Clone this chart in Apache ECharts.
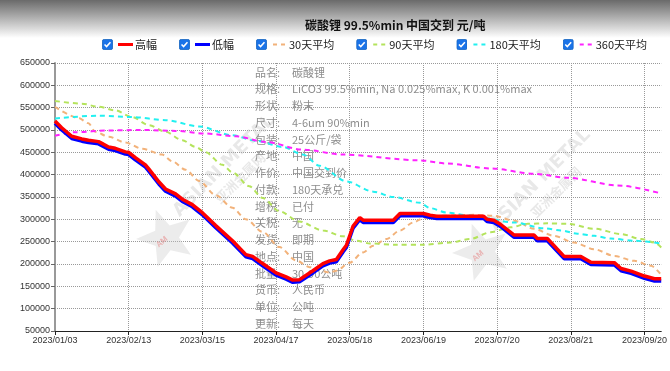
<!DOCTYPE html>
<html><head><meta charset="utf-8">
<script src="https://cdn.jsdelivr.net/npm/echarts@6/dist/echarts.min.js"></script>
<style>html,body{margin:0;padding:0;background:#fff}#c{width:670px;height:371px}</style>
</head><body><div id="c"></div>
<script>
const categories = ['2023/01/03','2023/01/04','2023/01/05','2023/01/06','2023/01/09','2023/01/10','2023/01/11','2023/01/12','2023/01/13','2023/01/16','2023/01/17','2023/01/18','2023/01/30','2023/01/31','2023/02/01','2023/02/02','2023/02/03','2023/02/06','2023/02/07','2023/02/08','2023/02/09','2023/02/10',
'2023/02/13','2023/02/14','2023/02/15','2023/02/16','2023/02/17','2023/02/20','2023/02/21','2023/02/22','2023/02/23','2023/02/24','2023/02/27','2023/02/28','2023/03/01','2023/03/02','2023/03/03','2023/03/06','2023/03/07','2023/03/08','2023/03/09','2023/03/10','2023/03/13','2023/03/14',
'2023/03/15','2023/03/16','2023/03/17','2023/03/20','2023/03/21','2023/03/22','2023/03/23','2023/03/24','2023/03/27','2023/03/28','2023/03/29','2023/03/30','2023/03/31','2023/04/03','2023/04/04','2023/04/06','2023/04/07','2023/04/10','2023/04/11','2023/04/12','2023/04/13','2023/04/14',
'2023/04/17','2023/04/18','2023/04/19','2023/04/20','2023/04/21','2023/04/23','2023/04/24','2023/04/25','2023/04/26','2023/04/27','2023/04/28','2023/05/04','2023/05/05','2023/05/06','2023/05/08','2023/05/09','2023/05/10','2023/05/11','2023/05/12','2023/05/15','2023/05/16','2023/05/17',
'2023/05/18','2023/05/19','2023/05/22','2023/05/23','2023/05/24','2023/05/25','2023/05/26','2023/05/29','2023/05/30','2023/05/31','2023/06/01','2023/06/02','2023/06/05','2023/06/06','2023/06/07','2023/06/08','2023/06/09','2023/06/12','2023/06/13','2023/06/14','2023/06/15','2023/06/16',
'2023/06/19','2023/06/20','2023/06/21','2023/06/25','2023/06/26','2023/06/27','2023/06/28','2023/06/29','2023/06/30','2023/07/03','2023/07/04','2023/07/05','2023/07/06','2023/07/07','2023/07/10','2023/07/11','2023/07/12','2023/07/13','2023/07/14','2023/07/17','2023/07/18','2023/07/19',
'2023/07/20','2023/07/21','2023/07/24','2023/07/25','2023/07/26','2023/07/27','2023/07/28','2023/07/31','2023/08/01','2023/08/02','2023/08/03','2023/08/04','2023/08/07','2023/08/08','2023/08/09','2023/08/10','2023/08/11','2023/08/14','2023/08/15','2023/08/16','2023/08/17','2023/08/18',
'2023/08/21','2023/08/22','2023/08/23','2023/08/24','2023/08/25','2023/08/28','2023/08/29','2023/08/30','2023/08/31','2023/09/01','2023/09/04','2023/09/05','2023/09/06','2023/09/07','2023/09/08','2023/09/11','2023/09/12','2023/09/13','2023/09/14','2023/09/15','2023/09/18','2023/09/19',
'2023/09/20','2023/09/21','2023/09/22','2023/09/25','2023/09/26','2023/09/27'];

const seriesNames = ['高幅','低幅','30天平均','90天平均','180天平均','360天平均'];

const highData = [['2023/01/03',520000],['2023/01/05',505000],['2023/01/10',486000],['2023/01/13',480000],['2023/01/17',477000],['2023/01/31',474000],['2023/02/01',470000],['2023/02/03',462000],['2023/02/07',459000],['2023/02/10',451000],['2023/02/13',450000],['2023/02/15',438000],['2023/02/20',422000],['2023/02/21',413000],['2023/02/24',384000],['2023/02/28',368000],['2023/03/03',357000],['2023/03/07',345000],['2023/03/10',333000],['2023/03/15',315000],['2023/03/21',286000],['2023/03/28',252000],['2023/04/03',221000],['2023/04/06',217000],['2023/04/11',201000],['2023/04/17',180000],['2023/04/20',171000],['2023/04/23',164000],['2023/04/25',165000],['2023/05/04',185000],['2023/05/08',201000],['2023/05/10',207000],['2023/05/12',210000],['2023/05/16',232000],['2023/05/17',242000],['2023/05/19',285000],['2023/05/23',304000],['2023/05/24',298000],['2023/06/06',298000],['2023/06/08',313000],['2023/06/19',313000],['2023/06/21',309000],['2023/06/26',307000],['2023/07/14',307000],['2023/07/17',300000],['2023/07/19',298000],['2023/07/21',289000],['2023/07/27',265000],['2023/08/04',265000],['2023/08/07',257000],['2023/08/10',257000],['2023/08/17',217000],['2023/08/24',217000],['2023/08/29',204000],['2023/09/07',203000],['2023/09/11',190000],['2023/09/14',184000],['2023/09/20',173000],['2023/09/25',167000],['2023/09/27',167000]];

const lowData = [['2023/01/03',515000],['2023/01/05',500000],['2023/01/10',481000],['2023/01/13',475000],['2023/01/17',472000],['2023/01/31',469000],['2023/02/01',465000],['2023/02/03',457000],['2023/02/07',454000],['2023/02/10',446000],['2023/02/13',445000],['2023/02/15',433000],['2023/02/20',417000],['2023/02/21',408000],['2023/02/24',379000],['2023/02/28',363000],['2023/03/03',352000],['2023/03/07',340000],['2023/03/10',328000],['2023/03/15',310000],['2023/03/21',281000],['2023/03/28',247000],['2023/04/03',216000],['2023/04/06',212000],['2023/04/11',196000],['2023/04/17',175000],['2023/04/20',166000],['2023/04/23',159000],['2023/04/25',160000],['2023/05/04',180000],['2023/05/08',196000],['2023/05/10',202000],['2023/05/12',205000],['2023/05/16',227000],['2023/05/17',237000],['2023/05/19',280000],['2023/05/23',299000],['2023/05/24',293000],['2023/06/06',293000],['2023/06/08',308000],['2023/06/19',308000],['2023/06/21',304000],['2023/06/26',302000],['2023/07/14',302000],['2023/07/17',295000],['2023/07/19',293000],['2023/07/21',284000],['2023/07/27',260000],['2023/08/04',260000],['2023/08/07',252000],['2023/08/10',252000],['2023/08/17',212000],['2023/08/24',212000],['2023/08/29',199000],['2023/09/07',198000],['2023/09/11',185000],['2023/09/14',179000],['2023/09/20',168000],['2023/09/25',162000],['2023/09/27',162000]];

const avg30Data = [['2023/01/03',552000],['2023/01/12',527000],['2023/01/17',515000],['2023/01/30',496000],['2023/02/03',485000],['2023/02/10',472000],['2023/02/17',458000],['2023/02/27',445000],['2023/03/02',430000],['2023/03/08',411000],['2023/03/14',386000],['2023/03/21',354000],['2023/03/28',326000],['2023/04/03',300000],['2023/04/11',272000],['2023/04/18',238000],['2023/04/24',208000],['2023/04/28',193000],['2023/05/10',181000],['2023/05/12',185000],['2023/05/18',203000],['2023/05/24',226000],['2023/05/29',241000],['2023/06/02',256000],['2023/06/08',275000],['2023/06/14',293000],['2023/06/19',303000],['2023/06/27',308000],['2023/07/11',310000],['2023/07/19',308000],['2023/07/27',297000],['2023/08/04',279000],['2023/08/14',263000],['2023/08/22',248000],['2023/08/30',233000],['2023/09/07',218000],['2023/09/15',207000],['2023/09/22',196000],['2023/09/27',175000]];

const avg90Data = [['2023/01/03',565000],['2023/01/13',559000],['2023/01/31',552000],['2023/02/07',544000],['2023/02/14',529000],['2023/02/21',511000],['2023/02/28',496000],['2023/03/07',477000],['2023/03/13',462000],['2023/03/16',450000],['2023/03/23',422000],['2023/03/28',405000],['2023/04/04',374000],['2023/04/11',348000],['2023/04/18',318000],['2023/04/25',295000],['2023/05/08',275000],['2023/05/16',262000],['2023/05/22',252000],['2023/05/26',246000],['2023/06/07',243000],['2023/06/19',243000],['2023/06/30',248000],['2023/07/10',256000],['2023/07/18',271000],['2023/07/26',282000],['2023/08/02',290000],['2023/08/10',291000],['2023/08/18',290000],['2023/08/30',279000],['2023/09/11',267000],['2023/09/19',256000],['2023/09/25',248000],['2023/09/27',237000]];

const avg180Data = [['2023/01/03',526000],['2023/01/31',532000],['2023/02/14',529000],['2023/02/28',522000],['2023/03/14',508000],['2023/03/28',488000],['2023/04/07',476000],['2023/04/19',462000],['2023/04/26',445000],['2023/05/06',420000],['2023/05/17',385000],['2023/05/29',362000],['2023/06/06',350000],['2023/06/16',337000],['2023/06/21',325000],['2023/06/29',315000],['2023/07/10',308000],['2023/07/27',293000],['2023/08/09',280000],['2023/08/16',275000],['2023/08/23',268000],['2023/08/30',263000],['2023/09/06',257000],['2023/09/15',252000],['2023/09/27',246000]];

const avg360Data = [['2023/01/03',487000],['2023/01/11',495000],['2023/02/03',499000],['2023/02/17',500000],['2023/03/03',498000],['2023/03/16',492000],['2023/03/29',486000],['2023/04/12',473000],['2023/04/26',456000],['2023/05/16',445000],['2023/06/16',432000],['2023/06/29',425000],['2023/07/18',414000],['2023/08/04',402000],['2023/08/18',393000],['2023/09/08',376000],['2023/09/27',358000]];

const yTicks = [50000,650000,50000]; // min, max, interval
const infoLabels = ['品名:','规格:','形状:','尺寸:','包装:','产地:','作价:','付款:','增税:','关税:','发货:','地点:','批量:','货币:','单位:','更新:'];
const infoValues = ['碳酸锂','LiCO3 99.5%min, Na 0.025%max, K 0.001%max','粉末','4-6um 90%min','25公斤/袋','中国','中国交到价','180天承兑','已付','无','即期','中国','30-90公吨','人民币','公吨','每天'];

const colors = ['#ff0000','#0000ff','#f2b27a','#b4e35c','#22f0f0','#ff22ff'];

function svgUri(s){ return 'data:image/svg+xml;charset=utf-8,' + encodeURIComponent(s); }
const checkSvg = svgUri("<svg xmlns='http://www.w3.org/2000/svg' width='13' height='13'><rect x='0.5' y='0.5' width='12' height='12' rx='2' fill='#1a73e8' stroke='#1565c0'/><path d='M3 6.6 L5.4 9 L10 3.8' stroke='#fff' stroke-width='1.8' fill='none'/></svg>");
function dashSvg(c){ return svgUri("<svg xmlns='http://www.w3.org/2000/svg' width='15' height='3'><rect x='1' y='0.5' width='4' height='2' fill='"+c+"'/><rect x='9' y='0.5' width='4' height='2' fill='"+c+"'/></svg>"); }

const rich = { t: {fontSize: 11, color: '#222', padding: [0,0,0,2], fontFamily: '"Noto Sans CJK SC"', verticalAlign: 'middle'} };
seriesNames.forEach((n,i)=>{
  rich['ln'+i] = i < 2 ? {width: 15, height: 3, backgroundColor: colors[i], verticalAlign: 'middle'}
                       : {width: 15, height: 3, backgroundColor: {image: dashSvg(colors[i])}, verticalAlign: 'middle'};
});

function starPoints(cx, cy, R, r){
  const pts=[]; for(let k=0;k<10;k++){ const a=-Math.PI/2 + k*Math.PI/5; const rr = k%2===0?R:r; pts.push([cx+rr*Math.cos(a), cy+rr*Math.sin(a)]);} return pts;
}
function watermark(cx, cy){
  return [
    {type:'polygon', silent:true, z:1, shape:{points: starPoints(cx, cy, 30, 13)}, style:{fill:'rgba(200,200,200,0.35)'}, rotation: 0.35, originX: cx, originY: cy},
    {type:'text', silent:true, z:1, x: cx-4, y: cy+4, style:{text:'AM', font:'bold 8px sans-serif', fill:'rgba(230,120,120,0.5)', align:'center', verticalAlign:'middle'}, rotation: 0.7},
    {type:'text', silent:true, z:1, x: cx+58, y: cy-72, style:{text:'ASIAN METAL', font:'bold 18px "DejaVu Sans"', fill:'rgba(190,190,190,0.35)', align:'center', verticalAlign:'middle'}, rotation: Math.PI/4},
    {type:'text', silent:true, z:1, x: cx+74, y: cy-60, style:{text:'亚洲金属网', font:'bold 13px "Noto Sans CJK SC"', fill:'rgba(190,190,190,0.35)', align:'center', verticalAlign:'middle'}, rotation: Math.PI/4}
  ];
}

const chart = echarts.init(document.getElementById('c'), null, {renderer:'canvas'});
const maSeries = [avg30Data, avg90Data, avg180Data, avg360Data];

chart.setOption({
  animation: false,
  title: {text: '碳酸锂 99.5%min 中国交到 元/吨', left: 300, top: 14, textStyle: {fontSize: 12, fontWeight: 'bold', color: '#111', fontFamily: '"Noto Sans CJK SC"'}},
  legend: {
    data: seriesNames, left: 102, top: 39, width: 600, padding: 0, itemGap: 22, itemWidth: 11, itemHeight: 11,
    icon: 'image://' + checkSvg,
    formatter: function(name){ const i = seriesNames.indexOf(name); return '{ln'+i+'|}{t|'+name+'}'; },
    textStyle: {rich: rich, fontSize: 11}
  },
  grid: {left: 55, right: 2, top: 63, bottom: 40, containLabel: false},
  xAxis: {
    type: 'category', data: categories, boundaryGap: false,
    axisLine: {lineStyle: {color: '#222', width: 1}},
    axisTick: {show: true, interval: 21, length: 4, lineStyle: {color: '#222'}},
    axisLabel: {interval: 21, fontSize: 9, color: '#333', margin: 5, fontFamily: '"Liberation Sans"'},
    splitLine: {show: true, interval: 21, lineStyle: {color: '#999', type: 'dotted', width: 1}}
  },
  yAxis: {
    type: 'value', min: yTicks[0], max: yTicks[1], interval: yTicks[2],
    axisLine: {show: true, lineStyle: {color: '#999', width: 2}},
    axisTick: {show: true, length: 4, lineStyle: {color: '#666'}},
    axisLabel: {fontSize: 9, color: '#333', margin: 5, fontFamily: '"Liberation Sans"', formatter: v => String(v)},
    splitLine: {show: true, lineStyle: {color: '#999', type: 'dotted', width: 1}}
  },
  graphic: [
    {type:'rect', silent:true, z:-10, shape:{x:0,y:0,width:670,height:38}, style:{fill: new echarts.graphic.LinearGradient(0,0,0,1,[{offset:0,color:'#6a6a6a'},{offset:1,color:'#ffffff'}])}},
    ...watermark(166, 238),
    ...watermark(482, 252),
    {type:'text', silent:true, z:1, x: 255, y: 64, style:{text: infoLabels.join('\n'), font:'11px "Noto Sans CJK SC"', lineHeight: 16.75, fill:'rgba(120,120,120,0.85)', verticalAlign:'top'}},
    {type:'text', silent:true, z:1, x: 292, y: 64, style:{text: infoValues.join('\n'), font:'11px "Noto Sans CJK SC"', lineHeight: 16.75, fill:'rgba(120,120,120,0.85)', verticalAlign:'top'}}
  ],
  series: [
    {name: seriesNames[0], type: 'line', data: highData, showSymbol: false, z: 5, lineStyle: {color: colors[0], width: 3.5}, itemStyle: {color: colors[0]}},
    {name: seriesNames[1], type: 'line', data: lowData, showSymbol: false, z: 4, lineStyle: {color: colors[1], width: 3.5}, itemStyle: {color: colors[1]}},
    ...maSeries.map((d, k) => ({
      name: seriesNames[k+2], type: 'line', data: d, showSymbol: false, z: 3, smooth: 0.3, smoothMonotone: 'x',
      lineStyle: {color: colors[k+2], width: 2, type: [5,4]}, itemStyle: {color: colors[k+2]}
    }))
  ]
});
</script></body></html>
